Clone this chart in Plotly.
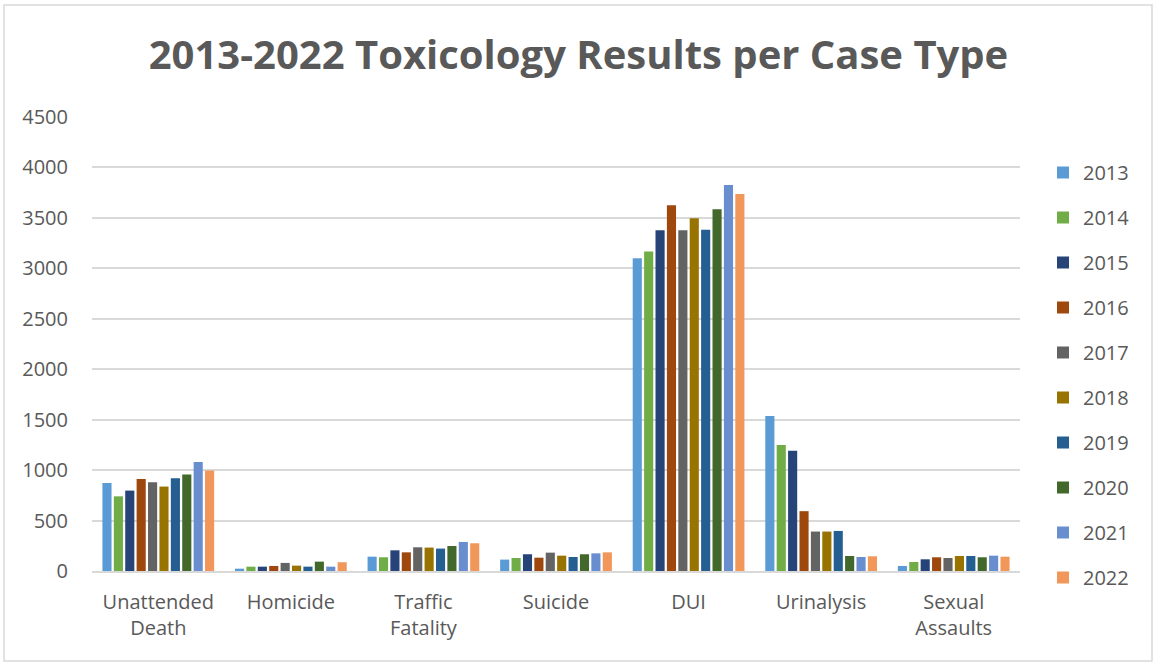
import plotly.graph_objects as go

# Case types on the category axis
case_types = ["Unattended<br>Death", "Homicide", "Traffic<br>Fatality", "Suicide",
              "DUI", "Urinalysis", "Sexual<br>Assaults"]

years = ["2013", "2014", "2015", "2016", "2017", "2018", "2019", "2020", "2021", "2022"]

# Toxicology results per year, one value per case type
results_2013 = [873, 23, 142, 113, 3099, 1536, 50]
results_2014 = [740, 43, 136, 129, 3168, 1248, 89]
results_2015 = [797, 43, 205, 166, 3378, 1192, 116]
results_2016 = [913, 50, 185, 132, 3625, 593, 136]
results_2017 = [880, 80, 235, 182, 3378, 391, 129]
results_2018 = [837, 53, 232, 152, 3497, 391, 149]
results_2019 = [920, 43, 222, 139, 3382, 397, 149]
results_2020 = [957, 93, 248, 166, 3586, 149, 136]
results_2021 = [1080, 43, 288, 175, 3825, 139, 152]
results_2022 = [997, 87, 275, 185, 3737, 146, 142]

series = [results_2013, results_2014, results_2015, results_2016, results_2017,
          results_2018, results_2019, results_2020, results_2021, results_2022]

colors = ["#5B9BD5", "#70AD47", "#264478", "#9E480E", "#636363",
          "#997300", "#255E91", "#43682B", "#698ED0", "#F1975A"]

W, H = 1157, 663
L, R, T, B = 92, 137, 117, 92
pw, ph = W - L - R, H - T - B

text_color = "#595959"
font_family = "Open Sans, Liberation Sans, sans-serif"

fig = go.Figure()
for year, values, color in zip(years, series, colors):
    fig.add_trace(go.Bar(
        x=case_types, y=values, name=year, legendgroup=year,
        marker=dict(color=color, line=dict(width=0)),
    ))

def px_x(x):
    return (x - L) / pw

def px_y(y):
    return (H - B - y) / ph

fig.update_layout(
    width=W, height=H,
    margin=dict(l=L, r=R, t=T, b=B),
    paper_bgcolor="white", plot_bgcolor="white",
    barmode="group", bargap=0.14, bargroupgap=0.2,
    font=dict(family=font_family, size=20, color=text_color),
    title=dict(
        text="<b>2013-2022 Toxicology Results per Case Type</b>",
        x=0.5, xref="container", xanchor="center",
        y=1 - 55 / H, yref="container", yanchor="middle",
        font=dict(family=font_family, size=40, color=text_color),
    ),
    legend=dict(
        x=px_x(1043), y=px_y(153), xanchor="left", yanchor="top",
        font=dict(size=20, color=text_color),
        tracegroupgap=16, itemwidth=30, maxheight=560,
        bgcolor="rgba(0,0,0,0)",
    ),
    xaxis=dict(
        showgrid=False, showline=True, linecolor="#D9D9D9", linewidth=1.5,
        ticks="", ticklabelstandoff=12, tickfont=dict(size=20, color=text_color),
    ),
    yaxis=dict(
        range=[0, 4500], tickvals=[0, 500, 1000, 1500, 2000, 2500, 3000, 3500, 4000, 4500],
        showgrid=True, gridcolor="#D9D9D9", gridwidth=1.5,
        zeroline=False, showline=False, ticks="", ticklabelstandoff=23,
        tickfont=dict(size=20, color=text_color),
    ),
    shapes=[dict(
        type="rect", xref="paper", yref="paper",
        x0=px_x(4), x1=px_x(1152), y0=px_y(661), y1=px_y(5),
        line=dict(color="#D9D9D9", width=1.5), fillcolor="rgba(0,0,0,0)", layer="below",
    )],
)

fig.write_html("out.html")
